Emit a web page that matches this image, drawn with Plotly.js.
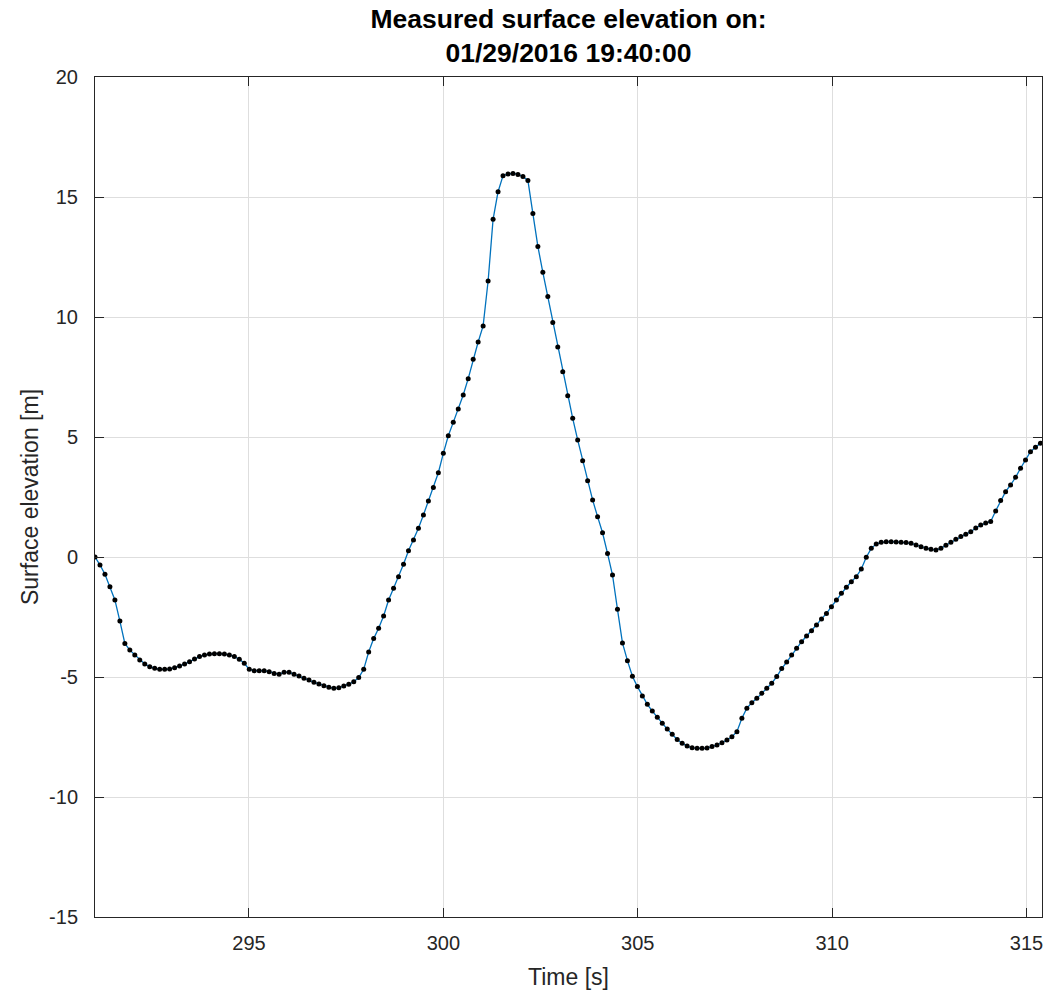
<!DOCTYPE html>
<html>
<head>
<meta charset="utf-8">
<script src="https://cdn.plot.ly/plotly-3.0.1.min.js"></script>
<style>
  html, body { margin: 0; padding: 0; background: #ffffff; }
  #chart { width: 1045px; height: 997px; }
</style>
</head>
<body>
<div id="chart"></div>
<script>
// Sampling of the record (seconds)
const sampleStart = 291.04;
const sampleInterval = 0.128;

// Measured surface elevation [m]
const elevation = [
  0.00, -0.33, -0.72, -1.24, -1.79, -2.67, -3.60, -3.88, -4.08, -4.29,
  -4.46, -4.57, -4.64, -4.68, -4.68, -4.67, -4.61, -4.54, -4.46, -4.36,
  -4.25, -4.15, -4.08, -4.04, -4.03, -4.03, -4.04, -4.08, -4.15, -4.26,
  -4.43, -4.68, -4.74, -4.74, -4.74, -4.78, -4.85, -4.89, -4.80, -4.80,
  -4.89, -4.96, -5.05, -5.13, -5.22, -5.29, -5.36, -5.43, -5.47, -5.45,
  -5.38, -5.30, -5.20, -5.02, -4.68, -3.96, -3.40, -2.97, -2.46, -1.79,
  -1.30, -0.82, -0.30, 0.26, 0.71, 1.20, 1.75, 2.33, 2.90, 3.51,
  4.32, 5.05, 5.61, 6.17, 6.75, 7.43, 8.24, 8.96, 9.63, 11.50,
  14.07, 15.22, 15.89, 15.96, 15.98, 15.94, 15.85, 15.69, 14.31, 12.94,
  11.86, 10.85, 9.77, 8.75, 7.72, 6.72, 5.78, 4.88, 4.01, 3.18,
  2.38, 1.68, 1.01, 0.15, -0.75, -2.18, -3.58, -4.32, -4.97, -5.40,
  -5.79, -6.14, -6.42, -6.68, -6.93, -7.17, -7.39, -7.60, -7.76, -7.88,
  -7.95, -7.97, -7.97, -7.96, -7.90, -7.83, -7.74, -7.63, -7.49, -7.28,
  -6.72, -6.30, -6.07, -5.89, -5.68, -5.47, -5.26, -4.98, -4.65, -4.38,
  -4.08, -3.80, -3.53, -3.29, -3.07, -2.83, -2.58, -2.35, -2.07, -1.79,
  -1.51, -1.26, -1.03, -0.82, -0.50, -0.01, 0.36, 0.54, 0.61, 0.64,
  0.64, 0.63, 0.61, 0.60, 0.57, 0.50, 0.43, 0.36, 0.32, 0.29,
  0.36, 0.49, 0.61, 0.74, 0.85, 0.95, 1.05, 1.21, 1.33, 1.42,
  1.48, 1.92, 2.35, 2.72, 3.00, 3.32, 3.70, 4.04, 4.39, 4.57,
  4.74
];

const time = elevation.map((_, i) => +(sampleStart + i * sampleInterval).toFixed(3));

const xTicks = [295, 300, 305, 310, 315];
const yTicks = [-15, -10, -5, 0, 5, 10, 15, 20];

const titleLines = ['Measured surface elevation on:', '01/29/2016 19:40:00'];
const xTitle = 'Time [s]';
const yTitle = 'Surface elevation [m]';

const FONT = 'Liberation Sans, Arial, Helvetica, sans-serif';
const INK = '#262626';

const trace = {
  x: time,
  y: elevation,
  type: 'scatter',
  mode: 'lines+markers',
  line: { color: '#0072BD', width: 1.3 },
  marker: { color: '#000000', size: 5, symbol: 'circle' },
  hoverinfo: 'x+y',
  showlegend: false
};

const axisCommon = {
  showline: true,
  linecolor: INK,
  linewidth: 1,
  mirror: 'ticks',
  ticks: 'inside',
  ticklen: 9,
  tickwidth: 1,
  tickcolor: INK,
  showgrid: true,
  gridcolor: '#dedede',
  gridwidth: 1,
  zeroline: false,
  tickfont: { family: FONT, size: 20, color: INK },
  automargin: false
};

const layout = {
  width: 1045,
  height: 997,
  paper_bgcolor: '#ffffff',
  plot_bgcolor: '#ffffff',
  margin: { l: 95, r: 3, t: 77, b: 80 },
  title: {
    text: '<b>' + titleLines.join('</b><br><b>') + '</b>',
    font: { family: FONT, size: 26.5, color: '#000000' },
    xref: 'paper', x: 0.5, xanchor: 'center',
    yref: 'container', y: 0.972, yanchor: 'top'
  },
  xaxis: Object.assign({}, axisCommon, {
    range: [sampleStart, 315.4],
    tickvals: xTicks,
    ticktext: xTicks.map(String),
    ticklabelstandoff: 8,
    title: { text: xTitle, font: { family: FONT, size: 23, color: INK }, standoff: 15 }
  }),
  yaxis: Object.assign({}, axisCommon, {
    range: [-15, 20],
    tickvals: yTicks,
    ticktext: yTicks.map(String),
    ticklabelstandoff: 12,
    title: { text: yTitle, font: { family: FONT, size: 23, color: INK }, standoff: 4 }
  })
};

Plotly.newPlot('chart', [trace], layout, { displayModeBar: false, staticPlot: true });
</script>
</body>
</html>
